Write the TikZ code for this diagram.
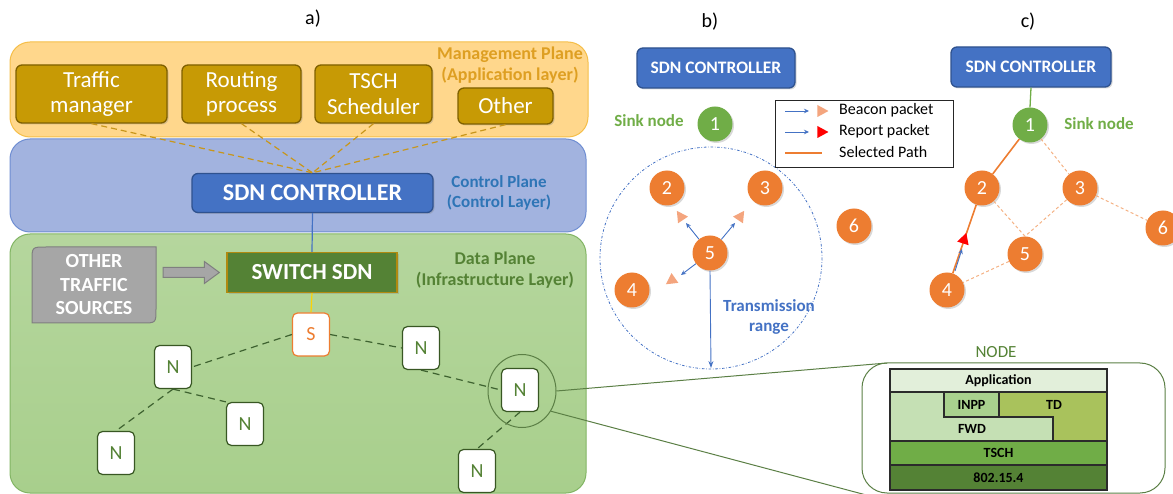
\documentclass[tikz,border=0pt]{standalone}
\usepackage{fontspec}
\setmainfont{Carlito}
\usetikzlibrary{shapes.geometric,arrows.meta,shadows,calc}

\definecolor{mgmtfill}{HTML}{FFD78C}
\definecolor{mgmtedge}{HTML}{F5BE48}
\definecolor{mgmttext}{HTML}{DE9F22}
\definecolor{ctrlfill}{HTML}{A2B3DF}
\definecolor{ctrledge}{HTML}{6F8ED2}
\definecolor{ctrltext}{HTML}{2E75B6}
\definecolor{datafill}{HTML}{A8CF8C}
\definecolor{dataedge}{HTML}{82B564}
\definecolor{datatext}{HTML}{548235}
\definecolor{gold}{HTML}{C79A05}
\definecolor{goldedge}{HTML}{7F6000}
\definecolor{golddash}{HTML}{C8961A}
\definecolor{sdnblue}{HTML}{4472C4}
\definecolor{sdnedge}{HTML}{2F528F}
\definecolor{swgreen}{HTML}{548235}
\definecolor{swedge}{HTML}{B08A10}
\definecolor{graybox}{HTML}{A6A6A6}
\definecolor{grayedge}{HTML}{7F7F7F}
\definecolor{darkgreen}{HTML}{385723}
\definecolor{treedash}{HTML}{3E6230}
\definecolor{nodeorange}{HTML}{ED7D31}
\definecolor{lightorange}{HTML}{F4A57E}
\definecolor{pathdash}{HTML}{F4B183}
\definecolor{sinkgreen}{HTML}{70AD47}
\definecolor{ringgreen}{HTML}{5B7F45}
\definecolor{appfill}{HTML}{E2EFDA}
\definecolor{fwdfill}{HTML}{C5E0B4}
\definecolor{inppfill}{HTML}{A9D18E}
\definecolor{tdfill}{HTML}{A9C25C}
\definecolor{tschfill}{HTML}{70AD47}
\definecolor{phyfill}{HTML}{548235}
\definecolor{stackedge}{HTML}{2B2B2B}

\newcommand\fsz[2]{\fontsize{#1}{#2}\selectfont}

\tikzset{
  every node/.style={inner sep=0pt},
  plane/.style={rounded corners=20pt, line width=1pt},
  softshadow/.style={drop shadow={opacity=.3, shadow xshift=1.5pt, shadow yshift=-1.5pt}},
  mgmtbox/.style={draw=goldedge, fill=gold, line width=1.3pt, rounded corners=6pt,
    text=white, align=center, font=\fsz{23}{25.5}, softshadow},
  ctrlbox/.style={draw=sdnedge, fill=sdnblue, line width=1.3pt, rounded corners=6pt,
    text=white, font=\bfseries, softshadow},
  switchbox/.style={draw=swedge, fill=swgreen, line width=1.3pt, text=white,
    font=\bfseries\fsz{23}{26}, softshadow},
  leaf/.style={draw=darkgreen, fill=white, line width=1.2pt, rounded corners=5pt,
    minimum width=37pt, minimum height=43pt, text=datatext, font=\fsz{20}{24}},
  sinkbox/.style={leaf, draw=nodeorange, text=nodeorange},
  planelabel/.style={font=\bfseries\fsz{18}{20.5}, align=center},
  golddashed/.style={golddash, line width=1.2pt, dash pattern=on 6pt off 4pt},
  treedashed/.style={treedash, line width=1.2pt, dash pattern=on 7pt off 5pt},
  mote/.style={circle, fill=nodeorange, minimum size=35pt, text=white,
    font=\fsz{20}{24}, softshadow},
  sink/.style={mote, fill=sinkgreen},
  sinklabel/.style={text=sinkgreen, font=\bfseries\fsz{17}{20}},
  probe/.style={sdnblue, line width=0.9pt, -{Stealth[length=5pt,width=4.5pt]}},
  beacontri/.style={isosceles triangle, isosceles triangle apex angle=60,
    fill=lightorange, minimum width=12pt, minimum height=11pt,
    isosceles triangle stretches},
  reporttri/.style={beacontri, fill=red},
  chosen/.style={nodeorange, line width=1.6pt},
  candidate/.style={pathdash, line width=1pt, dash pattern=on 3pt off 2.5pt},
  layer/.style={draw=stackedge, line width=1.2pt, minimum width=217pt,
    font=\bfseries\fsz{14}{16}},
  legendtext/.style={anchor=west, font=\fsz{16}{19}},
  panelcap/.style={font=\fsz{20}{24}}
}

\begin{document}
\begin{tikzpicture}[x=1pt,y=-1pt]
\useasboundingbox (0,0) rectangle (1173,494);

% ---------------- a) layered SDN architecture ----------------
\node[panelcap] (capa) at (313,19) {a)};

\draw[plane, draw=mgmtedge, fill=mgmtfill] (10,42) rectangle (588,137);
\draw[plane, draw=ctrledge, fill=ctrlfill] (10,139) rectangle (586,232);
\draw[plane, draw=dataedge, top color=datafill!85!white, bottom color=datafill] (10,234) rectangle (586,493);

\node[planelabel, text=mgmttext] (mgmtlabel) at (510,65) {Management Plane\\(Application layer)};
\node[planelabel, font=\bfseries\fsz{17}{20}, text=ctrltext] (ctrllabel) at (499,193) {Control Plane\\(Control Layer)};
\node[planelabel, text=datatext] (datalabel) at (495,270) {Data Plane\\(Infrastructure Layer)};

% applications
\node[mgmtbox, minimum width=151pt, minimum height=58pt] (tm) at (91.5,94) {Traffic\\manager};
\node[mgmtbox, minimum width=119pt, minimum height=58pt] (rp) at (241.5,94) {Routing\\process};
\node[mgmtbox, minimum width=117pt, minimum height=58pt] (ts) at (373.5,94) {TSCH\\Scheduler};
\node[mgmtbox, minimum width=95pt, minimum height=36pt] (ot) at (505.5,106) {Other};

% controller and switch
\node[ctrlbox, font=\bfseries\fsz{24}{27}, minimum width=241pt, minimum height=39pt] (sdnA) at (312.5,193) {SDN CONTROLLER};
\foreach \app in {tm,rp,ts,ot}
  \draw[golddashed] (\app.south) -- (sdnA.north);

\node[switchbox, minimum width=170pt, minimum height=40pt] (sw) at (312,272.5) {SWITCH SDN};
\draw[sdnblue, line width=1.2pt] (sdnA.south) -- (sw.north);

% external traffic
\draw[draw=grayedge, fill=graybox, line width=1pt]
  (32,323) -- (32,261) .. controls (32,247) .. (46,247) -- (156,247)
  -- (156,309) .. controls (156,323) .. (142,323) -- cycle;
\node[minimum width=124pt, minimum height=76pt, text=white, align=center,
  font=\bfseries\fsz{20}{23.5}] (ots) at (94,285) {OTHER\\TRAFFIC\\SOURCES};
\coordinate (fa) at ([xshift=7pt]ots.east |- sw.west);
\coordinate (fb) at ([xshift=-7pt]sw.west);
\draw[draw=grayedge, fill=graybox, line width=1pt]
  ($(fa)+(0,-5)$) -- ($(fb)+(-15,-5)$) -- ($(fb)+(-15,-11)$) -- (fb)
  -- ($(fb)+(-15,11)$) -- ($(fb)+(-15,5)$) -- ($(fa)+(0,5)$) -- cycle;

% sensor tree
\node[sinkbox] (S) at (311,334.5) {S};
\draw[line width=1.2pt, draw=yellow!70!orange] (sw.south) -- (S.north);
\node[leaf] (n1) at (173,367) {N};
\node[leaf] (n2) at (245,424) {N};
\node[leaf] (n3) at (116,453) {N};
\node[leaf] (n4) at (421,348) {N};
\node[leaf] (n5) at (520,390) {N};
\node[leaf] (n6) at (477,471) {N};
\draw[treedashed] (S.west) -- (n1.east);
\draw[treedashed] (S.east) -- (n4.west);
\draw[treedashed] (n4.south) -- (n5.west);
\draw[treedashed] (n1.south) -- (n2.north west);
\draw[treedashed] (n1.south) -- (n3.north);
\draw[treedashed] (n5.south) -- (n6.north);

\node[ellipse, draw=ringgreen, line width=1pt, minimum width=68pt, minimum height=73pt] (ring) at (522,391) {};

% ---------------- node protocol stack ----------------
\node[text=datatext, font=\fsz{17}{20}] (stacktitle) at (996,352) {NODE};
\draw[draw=ringgreen, line width=1pt, rounded corners=25pt] (862,363) rectangle (1165,493);
\coordinate (zoomtop) at (887,363);
\coordinate (zoombot) at (870,496);
\draw[ringgreen, line width=1pt] (ring.east) -- (zoomtop);
\draw[ringgreen, line width=1pt] (ring.-35) -- (zoombot);

\fill[fwdfill] (890,392) rectangle (1107,441);
\draw[stackedge, line width=1.2pt, fill=tdfill]
  (999,392) -- (1107,392) -- (1107,441) -- (1053,441) -- (1053,417) -- (999,417) -- cycle;
\draw[stackedge, line width=1.2pt] (890,392) rectangle (1107,441);
\node[layer, fill=appfill, minimum height=23pt] (app) at (998.5,380.5) {Application};
\node[layer, fill=inppfill, minimum width=55pt, minimum height=25pt] (inpp) at (971.5,404.5) {INPP};
\node[font=\bfseries\fsz{14}{16}] (td) at (1054,405) {TD};
\node[font=\bfseries\fsz{14}{16}] (fwd) at (972,429) {FWD};
\node[layer, fill=tschfill, minimum height=24pt] (tsch) at (998.5,453) {TSCH};
\node[layer, fill=phyfill, minimum height=25pt] (phy) at (998.5,477.5) {802.15.4};

% ---------------- b) neighbour discovery ----------------
\node[panelcap] (capb) at (710,22) {b)};
\node[ctrlbox, font=\bfseries\fsz{17.5}{20}, minimum width=158pt, minimum height=40pt] (sdnB) at (716,68) {SDN CONTROLLER};
\node[sinklabel] (sinkB) at (649,121) {Sink node};
\node[sink] (b1) at (715,124) {1};
\node[mote] (b2) at (667,188) {2};
\node[mote] (b3) at (765,188) {3};
\node[mote] (b4) at (632,290) {4};
\node[mote] (b5) at (710,253) {5};
\node[mote] (b6) at (854,226) {6};

\draw[sdnblue, line width=0.8pt, dash pattern=on 2.5pt off 1.8pt on 0.6pt off 1.8pt] (711,258) circle[radius=111];

\coordinate (tip2) at (686,223);
\coordinate (tip3) at (735,223);
\coordinate (tip4) at (681,275);
\coordinate (rangeend) at (711,368);
\draw[probe] (b5) -- (tip2);
\draw[probe] (b5) -- (tip3);
\draw[probe] (b5) -- (tip4);
\draw[sdnblue, line width=0.9pt, -{Stealth[length=7pt,width=5pt]}] (b5.south) -- (rangeend);
\node[beacontri, rotate=124] (bt2) at (681,217) {};
\node[beacontri, rotate=56] (bt3) at (740,217) {};
\node[beacontri, rotate=215] (bt4) at (672,280) {};
\node[text=sdnblue, font=\bfseries\fsz{17}{20}, align=center] (rangelabel) at (769,317) {Transmission\\range};

% legend
\node[draw=black!85, line width=0.9pt, fill=white, minimum width=178pt, minimum height=67pt] (legend) at (864,133.5) {};
\coordinate (l1a) at (785,111); \coordinate (l1b) at (809,111);
\coordinate (l2a) at (785,132); \coordinate (l2b) at (809,132);
\coordinate (l3a) at (785,153); \coordinate (l3b) at (822,153);
\draw[probe, line width=0.8pt] (l1a) -- (l1b);
\draw[probe, line width=0.8pt] (l2a) -- (l2b);
\draw[chosen, line width=1.3pt] (l3a) -- (l3b);
\node[beacontri] (lt1) at (821,111) {};
\node[reporttri] (lt2) at (821,132) {};
\node[legendtext] (lg1) at (839,110) {Beacon packet};
\node[legendtext] (lg2) at (839,131) {Report packet};
\node[legendtext] (lg3) at (839,152) {Selected Path};

% ---------------- c) selected path ----------------
\node[panelcap] (capc) at (1028,22) {c)};
\node[ctrlbox, font=\bfseries\fsz{17.5}{20}, minimum width=160pt, minimum height=40pt] (sdnC) at (1031,67) {SDN CONTROLLER};
\node[sink] (c1) at (1030,125) {1};
\node[sinklabel] (sinkC) at (1099,124) {Sink node};
\node[mote] (c2) at (982,188) {2};
\node[mote] (c3) at (1080,188) {3};
\node[mote] (c5) at (1025,254) {5};
\node[mote] (c4) at (947,290) {4};
\node[mote] (c6) at (1163,228) {6};
\draw[sinkgreen, line width=1.3pt] (sdnC.south) -- (c1.north);
\draw[candidate] (c1) -- (c3);
\draw[candidate] (c3) -- (c6);
\draw[candidate] (c2) -- (c5.north);
\draw[candidate] (c3) -- (c5.north);
\draw[candidate] (c5) -- (c4);
\draw[chosen] (c1) -- (c2);
\draw[chosen] (c2) -- (c4);
\coordinate (rep0) at (955,271);
\coordinate (rep1) at (962,249);
\draw[probe] (rep0) -- (rep1);
\node[reporttri, rotate=72] (rt) at (964,240) {};
\end{tikzpicture}
\end{document}
